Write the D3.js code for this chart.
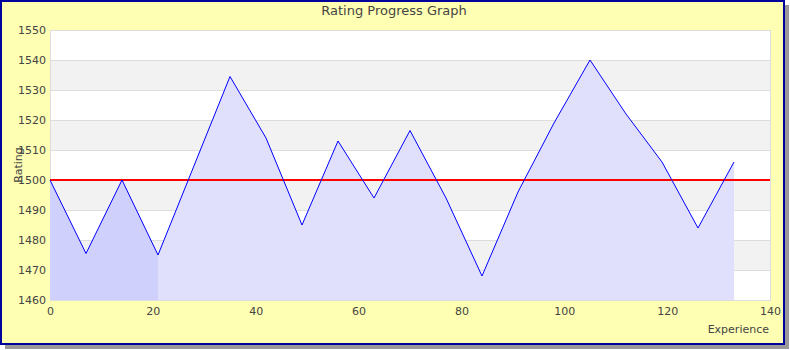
<!DOCTYPE html>
<html><head><meta charset="utf-8">
<script src="https://cdn.jsdelivr.net/npm/d3@7"></script>
<style>body{margin:0;background:#fff;}svg{display:block;font-family:"DejaVu Sans",sans-serif;}</style>
</head><body><svg id="c" width="790" height="350"></svg>
<script>
const experience = [0, 7, 14, 21, 35, 42, 49, 56, 63, 70, 77, 84, 91, 98, 105, 112, 119, 126, 133];
const rating = [1500, 1475.5, 1500, 1475, 1534.5, 1514, 1485, 1513, 1494, 1516.5, 1494, 1468, 1496, 1519, 1540, 1522, 1506, 1484, 1506];
const highlightEnd = 21;
const baseline = 1500;
const yTicks = [1460, 1470, 1480, 1490, 1500, 1510, 1520, 1530, 1540, 1550];
const xTicks = [0, 20, 40, 60, 80, 100, 120, 140];

const svg = d3.select("#c");
const W = 790, H = 350;
const m = {l: 50, r: 20, t: 30, b: 50};
const x = d3.scaleLinear().domain([0, 140]).range([m.l, W - m.r]);
const y = d3.scaleLinear().domain([1460, 1550]).range([H - m.b, m.t]);

// shadow and frame
svg.append("rect").attr("x", 5).attr("y", 5).attr("width", 784).attr("height", 344).attr("fill", "#999");
svg.append("rect").attr("x", 1).attr("y", 1).attr("width", 783).attr("height", 343)
  .attr("fill", "#ffffb3").attr("stroke", "#00009c").attr("stroke-width", 2);

// plot background bands
svg.append("rect").attr("x", x(0)).attr("y", y(1550)).attr("width", x(140) - x(0)).attr("height", y(1460) - y(1550)).attr("fill", "#fff");
for (let i = 0; i < yTicks.length - 1; i++) {
  if ((yTicks.length - 2 - i) % 2 === 1) {
    svg.append("rect").attr("x", x(0)).attr("y", y(yTicks[i + 1])).attr("width", x(140) - x(0))
      .attr("height", y(yTicks[i]) - y(yTicks[i + 1])).attr("fill", "#f2f2f2");
  }
}
// grid lines
svg.append("g").selectAll("line").data(yTicks).join("line")
  .attr("x1", x(0)).attr("x2", x(140)).attr("y1", d => y(d) + 0.5).attr("y2", d => y(d) + 0.5)
  .attr("stroke", "#dddddd");
svg.append("rect").attr("x", x(0) + 0.5).attr("y", y(1550) + 0.5).attr("width", x(140) - x(0)).attr("height", y(1460) - y(1550))
  .attr("fill", "none").attr("stroke", "#dddddd");

const pts = experience.map((e, i) => [e, rating[i]]);
const area = d3.area().x(d => x(d[0])).y0(y(1460)).y1(d => y(d[1]));
svg.append("path").datum(pts).attr("d", area).attr("fill", "#e0e0fd");
const idx = experience.indexOf(highlightEnd);
svg.append("path").datum(pts.slice(0, idx + 1)).attr("d", area).attr("fill", "#d0d0fd");

// baseline
svg.append("line").attr("x1", x(0)).attr("x2", x(140)).attr("y1", y(baseline)).attr("y2", y(baseline))
  .attr("stroke", "#ff0000").attr("stroke-width", 2);

// rating line
svg.append("path").datum(pts).attr("d", d3.line().x(d => x(d[0])).y(d => y(d[1])))
  .attr("fill", "none").attr("stroke", "#0000ff").attr("stroke-width", 1);

// axes
const yAxis = svg.append("g").attr("transform", `translate(${x(0)},0)`)
  .call(d3.axisLeft(y).tickValues(yTicks).tickSize(0).tickPadding(4).tickFormat(d3.format("d")));
const xAxis = svg.append("g").attr("transform", `translate(0,${y(1460)})`)
  .call(d3.axisBottom(x).tickValues(xTicks).tickSize(0).tickPadding(7).tickFormat(d3.format("d")));
[yAxis, xAxis].forEach(a => {
  a.select(".domain").remove();
  a.selectAll("text").attr("fill", "#444").style("font-size", "11px").style("font-family", "DejaVu Sans");
});

svg.append("text").attr("x", 394).attr("y", 15).attr("text-anchor", "middle")
  .attr("fill", "#444").style("font-size", "13px").text("Rating Progress Graph");
svg.append("text").attr("transform", `translate(22,${165}) rotate(-90)`).attr("text-anchor", "middle")
  .attr("fill", "#444").style("font-size", "11px").text("Rating");
svg.append("text").attr("x", 769).attr("y", 333).attr("text-anchor", "end")
  .attr("fill", "#444").style("font-size", "11px").text("Experience");
</script></body></html>
